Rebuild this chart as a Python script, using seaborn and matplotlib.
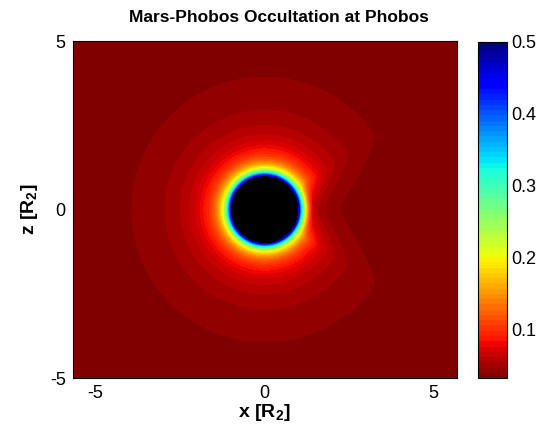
import numpy as np
import matplotlib
matplotlib.use('Agg')
import matplotlib.pyplot as plt
import seaborn as sns
from matplotlib.colors import Normalize
from matplotlib.cm import ScalarMappable

# axes and colour scale
x_range = [-5.68, 5.68]
z_range = [-5.0, 5.0]
x_ticks = [-5, 0, 5]
z_ticks = [-5, 0, 5]
cbar_ticks = [0.1, 0.2, 0.3, 0.4, 0.5]
c_limits = [0.032, 0.5]
n_colors = 64

# radial fall-off fitted to the band edges on the lit (left) side
body_radius = 1.0
floor_value = 0.0304
falloff_scale = 0.0616
falloff_offset = 0.7
falloff_power = 1.65

# occultation shadow on the +x side (cone from the origin)
shadow_depth = 0.70
shadow_half_angle = 34.0
shadow_onset = [1.1, 1.5]


def occultation_field(X, Z):
    """Field value on the x-z grid, NaN inside the body"""
    R = np.hypot(X, Z)
    theta = np.degrees(np.arctan2(np.abs(Z), X))
    u = np.clip(theta / shadow_half_angle, 0, 1)
    cone = 1 - u ** 2
    t = np.clip((R - shadow_onset[0]) / (shadow_onset[1] - shadow_onset[0]), 0, 1)
    onset = t * t * (3 - 2 * t)
    shade = 1 - shadow_depth * cone * onset

    F = floor_value + falloff_scale * np.clip(R - falloff_offset, 0.05, None) ** (-falloff_power) * shade
    F[R < body_radius] = np.nan
    return F


sns.set_theme(style='white')
plt.rcParams['font.family'] = ['Liberation Sans', 'DejaVu Sans']
plt.rcParams['mathtext.fontset'] = 'custom'
plt.rcParams['mathtext.rm'] = 'Liberation Sans'
plt.rcParams['mathtext.bf'] = 'Liberation Sans:bold'
plt.rcParams['mathtext.default'] = 'bf'
plt.rcParams['axes.unicode_minus'] = False
plt.rcParams['text.color'] = 'black'
plt.rcParams['axes.labelcolor'] = 'black'

xs = np.linspace(x_range[0], x_range[1], 760)
zs = np.linspace(z_range[0], z_range[1], 680)
X, Z = np.meshgrid(xs, zs)
F = occultation_field(X, Z)

cmap = matplotlib.colormaps['jet_r'].resampled(n_colors)
cmap.set_under(cmap(0))
cmap.set_over(cmap(n_colors - 1))
levels = np.linspace(c_limits[0], c_limits[1], n_colors + 1)

fig = plt.figure(figsize=(5.44, 4.37), dpi=100)
ax = fig.add_axes([0.1336, 0.135, 0.706, 0.771])
cax = fig.add_axes([0.8787, 0.135, 0.0533, 0.769])

ax.set_facecolor('black')
ax.contourf(X, Z, F, levels=levels, cmap=cmap, extend='both', antialiased=False)

ax.set_xlim(x_range)
ax.set_ylim(z_range)
ax.set_xticks(x_ticks)
ax.set_yticks(z_ticks)
ax.tick_params(direction='in', top=True, right=True, length=4, width=0.8,
               labelsize=13, colors='black', pad=5)
for spine in ax.spines.values():
    spine.set_color('black')
    spine.set_linewidth(0.8)

ax.set_title('Mars-Phobos Occultation at Phobos', fontsize=12.5, fontweight='bold',
             pad=14, x=0.537)
ax.set_xlabel('x [R$_2$]', fontsize=14, fontweight='bold', labelpad=0)
ax.set_ylabel('z [R$_2$]', fontsize=14, fontweight='bold', labelpad=7)

sm = ScalarMappable(norm=Normalize(*c_limits), cmap=cmap)
cbar = fig.colorbar(sm, cax=cax, ticks=cbar_ticks)
cbar.ax.tick_params(direction='in', left=True, right=True, length=4, width=0.8,
                    labelsize=13, colors='black', pad=3)
cbar.outline.set_edgecolor('black')
cbar.outline.set_linewidth(0.8)

fig.savefig('out.png', dpi=100)
